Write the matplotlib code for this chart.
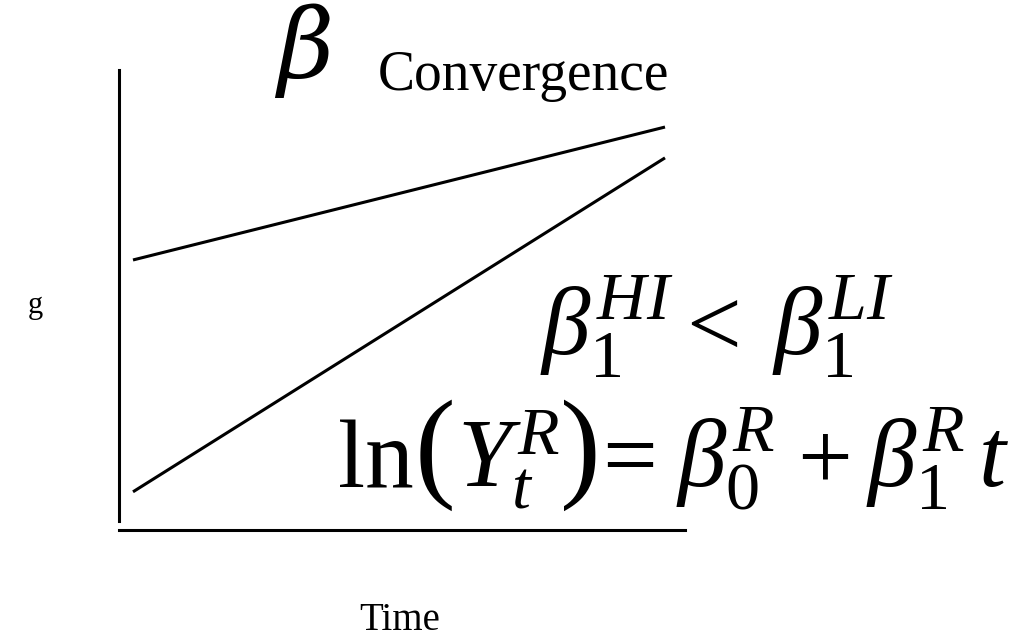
import matplotlib
matplotlib.use("Agg")
import matplotlib.pyplot as plt

# Data (schematic convergence diagram)
time = [0, 10]
high_income = [5.87, 8.76]   # upper line
low_income = [0.83, 8.09]    # lower line

plt.rcParams['mathtext.fontset'] = 'custom'
plt.rcParams['mathtext.rm'] = 'Liberation Serif'
plt.rcParams['mathtext.it'] = 'Liberation Serif:italic'
plt.rcParams['mathtext.bf'] = 'Liberation Serif:bold'
plt.rcParams['font.family'] = ['Liberation Serif', 'DejaVu Serif']

W, H = 1021, 637
fig = plt.figure(figsize=(W / 100, H / 100), dpi=100)

def fx(px):
    return px / W

def fy(py):
    return 1 - py / H

# axes spanning x 119..685 px, y 70..530 px
ax = fig.add_axes([fx(119), fy(530), fx(685) - fx(119), (530 - 70) / H])
ax.set_xlim(-14 / 53.2, 10 + 20 / 53.2)
ax.set_ylim(0, 10)
for s in ['top', 'right']:
    ax.spines[s].set_visible(False)
ax.spines['left'].set_linewidth(2.2)
ax.spines['bottom'].set_linewidth(2.2)
ax.spines['left'].set_bounds(0.2, 10)
ax.set_xticks([])
ax.set_yticks([])
ax.patch.set_alpha(0)

ax.plot(time, high_income, color='black', lw=2.2, solid_capstyle='butt')
ax.plot(time, low_income, color='black', lw=2.2, solid_capstyle='butt')

# texts
fig.text(fx(35), fy(305), 'g', fontsize=22, ha='center', va='center')
fig.text(fx(400), fy(620), 'Time', fontsize=28, ha='center', va='center')
fig.text(fx(277), fy(78), 'β', fontsize=70, family='DejaVu Serif', style='italic',
         ha='left', va='baseline')
fig.text(fx(378), fy(90), 'Convergence', fontsize=40, ha='left', va='baseline')

fs = 70
# beta_1^HI < beta_1^LI
fig.text(fx(540), fy(355), r'$\beta_1^{HI}$', fontsize=fs, ha='left', va='baseline')
fig.text(fx(672), fy(355), r'$<$', fontsize=fs, ha='left', va='baseline')
fig.text(fx(772), fy(355), r'$\beta_1^{LI}$', fontsize=fs, ha='left', va='baseline')

# ln(Y_t^R) = beta_0^R + beta_1^R t : pieces placed left to right without overlap
renderer = fig.canvas.get_renderer()
pieces = [
    ('ln', 338, 487, fs),
    ('(', 414, 485, 88),
    (r'$Y_t^R$', 452, 487, fs),
    (')', 551, 485, 88),
    ('=', 595, 487, fs),
    (r'$\beta_0^R$', 676, 487, fs),
    (r'$+$', 797, 487, fs),
    (r'$\beta_1^R\,t$', 866, 487, fs),
]
prev_end = 0
for s, x, y, size in pieces:
    x = max(x, prev_end + 1)
    t = fig.text(fx(x), fy(y), s, fontsize=size, ha='left', va='baseline')
    bb = t.get_window_extent(renderer=renderer)
    prev_end = bb.x1

fig.savefig('out.png', dpi=100)
